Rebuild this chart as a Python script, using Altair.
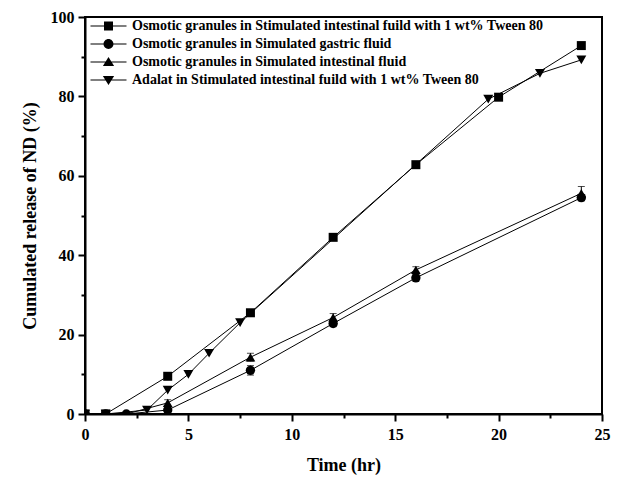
import altair as alt
import pandas as pd

series_names = [
    "Osmotic granules in Stimulated intestinal fuild with 1 wt% Tween 80",
    "Osmotic granules in Simulated gastric fluid",
    "Osmotic granules in Simulated intestinal fluid",
    "Adalat in Stimulated intestinal fuild with 1 wt% Tween 80",
]
marker_shapes = ["square", "circle", "triangle-up", "triangle-down"]
marker_sizes = [81, 100, 121, 121]
# legend glyphs: a thin line through the marker (all sub-paths clockwise, filled)
legend_paths = [
    "M-4,-0.12H4V0.12H-4ZM-1,-1H1V1H-1Z",
    "M-4,-0.12H4V0.12H-4ZM1.1,0A1.1,1.1,0,1,1,-1.1,0A1.1,1.1,0,1,1,1.1,0Z",
    "M-4,-0.12H4V0.12H-4ZM0,-1.1L1.25,0.9H-1.25Z",
    "M-4,-0.12H4V0.12H-4ZM0,1.1L-1.25,-0.9H1.25Z",
]

tween_time = [0, 1, 4, 8, 12, 16, 20, 24]
tween_release = [0, 0, 9.5, 25.5, 44.5, 62.8, 79.8, 92.8]
tween_err = [0, 0, 0, 0, 0, 0, 0, 0]

gastric_time = [0, 1, 2, 4, 8, 12, 16, 24]
gastric_release = [0, 0, 0, 1.0, 11.0, 22.8, 34.3, 54.5]
gastric_err = [0, 0, 0, 0.5, 1.2, 0.8, 0.8, 0.8]

intestinal_time = [0, 1, 2, 4, 8, 12, 16, 24]
intestinal_release = [0, 0, 0, 2.8, 14.3, 24.3, 36.3, 55.6]
intestinal_err = [0, 0, 0, 0.8, 1.0, 1.0, 0.8, 1.7]

adalat_time = [0, 1, 3, 4, 5, 6, 7.5, 19.5, 22, 24]
adalat_release = [0, 0, 1.0, 6.0, 10.0, 15.3, 23.0, 79.3, 85.8, 89.2]
adalat_err = [0, 0, 0, 0, 0, 0, 0, 0, 0, 0]

x_major = [0, 5, 10, 15, 20, 25]
x_minor = [2.5, 7.5, 12.5, 17.5, 22.5]
y_major = [0, 20, 40, 60, 80, 100]
y_minor = [10, 30, 50, 70, 90]

rows = []
for name, ts, vs, es in [
    (series_names[0], tween_time, tween_release, tween_err),
    (series_names[1], gastric_time, gastric_release, gastric_err),
    (series_names[2], intestinal_time, intestinal_release, intestinal_err),
    (series_names[3], adalat_time, adalat_release, adalat_err),
]:
    for t, v, e in zip(ts, vs, es):
        rows.append({"series": name, "time": t, "release": v,
                     "lo": v - e, "hi": v + e, "err": e})
df = pd.DataFrame(rows)
df_err = df[df["err"] > 0]

legend_df = pd.DataFrame({"series": series_names,
                          "time": [None] * 4, "release": [None] * 4})

FONT = "Liberation Serif"
x_scale = alt.Scale(domain=[0, 25], nice=False)
y_scale = alt.Scale(domain=[0, 100], nice=False)

x_axis = alt.Axis(values=x_major, title="Time (hr)", orient="bottom",
                  tickSize=7, labelPadding=5, titlePadding=14,
                  labelFlush=False, labelOverlap=False, format="d")
y_axis = alt.Axis(values=y_major, title="Cumulated release of ND (%)",
                  orient="left", tickSize=7, labelPadding=4, titlePadding=11,
                  labelFlush=False, labelOverlap=False, format="d")
x_minor_axis = alt.Axis(values=x_minor, orient="bottom", tickSize=4,
                        labels=False, domain=False, title=None)
y_minor_axis = alt.Axis(values=y_minor, orient="left", tickSize=4,
                        labels=False, domain=False, title=None)

lines = alt.Chart(df).mark_line(color="black", strokeWidth=1).encode(
    x=alt.X("time:Q", scale=x_scale, axis=x_axis),
    y=alt.Y("release:Q", scale=y_scale, axis=y_axis),
    detail="series:N",
    order="time:Q",
)

err_rules = alt.Chart(df_err).mark_rule(color="black", strokeWidth=1).encode(
    x=alt.X("time:Q", axis=None),
    y=alt.Y("lo:Q", axis=None),
    y2="hi:Q",
)
caps_hi = alt.Chart(df_err).mark_tick(color="black", orient="horizontal",
                                      size=7, thickness=1).encode(
    x=alt.X("time:Q", axis=None),
    y=alt.Y("hi:Q", axis=None),
)
caps_lo = alt.Chart(df_err).mark_tick(color="black", orient="horizontal",
                                      size=7, thickness=1).encode(
    x=alt.X("time:Q", axis=None),
    y=alt.Y("lo:Q", axis=None),
)

points = alt.Chart(df).mark_point(filled=True, color="black", opacity=1,
                                  clip=True).encode(
    x=alt.X("time:Q", axis=None),
    y=alt.Y("release:Q", axis=None),
    shape=alt.Shape("series:N",
                    scale=alt.Scale(domain=series_names, range=marker_shapes),
                    legend=None),
    size=alt.Size("series:N",
                  scale=alt.Scale(domain=series_names, range=marker_sizes),
                  legend=None),
)

legend_layer = alt.Chart(legend_df).mark_point(
    filled=True, color="black", opacity=1
).transform_filter("isValid(datum.time)").encode(
    x=alt.X("time:Q", axis=x_minor_axis),
    y=alt.Y("release:Q", axis=y_minor_axis),
    shape=alt.Shape(
        "series:N",
        scale=alt.Scale(domain=series_names, range=legend_paths),
        legend=alt.Legend(
            title=None, orient="none", legendX=16.5, legendY=2, padding=0,
            symbolSize=81, symbolFillColor="black", symbolStrokeWidth=0,
            symbolOpacity=1,
            labelFont=FONT, labelFontWeight="bold", labelFontSize=14,
            labelColor="black", labelOffset=16.5, labelLimit=800, rowPadding=4,
        ),
    ),
)

chart = alt.layer(
    lines, err_rules, caps_hi, caps_lo, points, legend_layer
).resolve_scale(
    shape="independent", size="independent"
).resolve_axis(
    x="independent", y="independent"
).properties(
    width=517, height=397,
    autosize=alt.AutoSizeParams(type="none"),
    padding={"left": 77, "top": 9, "right": 12, "bottom": 72},
).configure_axis(
    labelFont=FONT, labelFontWeight="bold", labelFontSize=16, labelColor="black",
    titleFont=FONT, titleFontWeight="bold", titleFontSize=18, titleColor="black",
    domainColor="black", domainWidth=2, tickColor="black", tickWidth=2,
    grid=False,
).configure_view(
    stroke="black", strokeWidth=2
)

chart.save("out.html", embed_options={"renderer": "svg", "actions": False})
